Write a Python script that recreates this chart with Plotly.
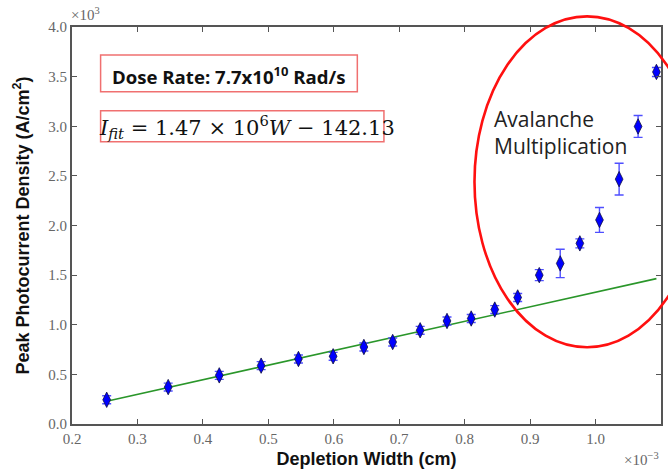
import plotly.graph_objects as go

# ---- data (x in 1e-3 cm, y in 1e3 A/cm^2) ----
depletion_width = [0.253, 0.347, 0.425, 0.489, 0.546, 0.599, 0.646, 0.690, 0.732, 0.773,
                   0.810, 0.846, 0.881, 0.914, 0.946, 0.976, 1.006, 1.036, 1.065, 1.093]
photocurrent = [0.244, 0.372, 0.490, 0.588, 0.655, 0.682, 0.776, 0.826, 0.944, 1.038,
                1.063, 1.153, 1.275, 1.500, 1.618, 1.820, 2.056, 2.467, 2.998, 3.547]
photocurrent_err = [0.04, 0.04, 0.04, 0.04, 0.04, 0.04, 0.04, 0.04, 0.04, 0.04,
                    0.04, 0.04, 0.04, 0.055, 0.143, 0.045, 0.125, 0.16, 0.11, 0.045]
fit_slope = 1.47      # 1.47e6 A/cm^3 in chart units
fit_intercept = -0.14213  # -142.13 A/cm^2 in chart units

x_ticks = [0.2, 0.3, 0.4, 0.5, 0.6, 0.7, 0.8, 0.9, 1.0, 1.1]
y_ticks = [0.0, 0.5, 1.0, 1.5, 2.0, 2.5, 3.0, 3.5, 4.0]
X_RANGE = [0.2, 1.1]
Y_RANGE = [0.0, 4.0]

# ---- layout geometry ----
W, H = 668, 474
ML, MR, MT, MB = 72, 5, 27, 50
PW, PH = W - ML - MR, H - MT - MB


def px(xp):
    return (xp - ML) / PW


def py(yp):
    return (MT + PH - yp) / PH


def dx(v):
    return (v - X_RANGE[0]) / (X_RANGE[1] - X_RANGE[0])


def dy(v):
    return (v - Y_RANGE[0]) / (Y_RANGE[1] - Y_RANGE[0])


fit_x = [depletion_width[0], depletion_width[-1]]
fit_y = [fit_slope * v + fit_intercept for v in fit_x]

fig = go.Figure()
fig.add_trace(go.Scatter(
    x=fit_x, y=fit_y, mode="lines",
    line=dict(color="#2a962a", width=1.6), showlegend=False, hoverinfo="skip"))
fig.add_trace(go.Scatter(
    x=depletion_width, y=photocurrent, mode="markers",
    marker=dict(symbol="diamond-tall", size=11, color="#0000ff",
                line=dict(color="#101040", width=0.8)),
    error_y=dict(type="data", array=photocurrent_err, color="#4f4fff",
                 thickness=1.4, width=4.5),
    showlegend=False))

serif = "Liberation Serif"
label_font = dict(family="Liberation Sans", size=18, color="#111111", weight="bold")
axis_common = dict(showgrid=False, zeroline=False, showline=True, linecolor="#555555",
                   linewidth=2, mirror="ticks", ticks="inside", ticklen=5, tickwidth=1,
                   tickcolor="#555555",
                   tickfont=dict(family=serif, size=15, color="#666666"))

fig.update_layout(
    width=W, height=H, margin=dict(l=ML, r=MR, t=MT, b=MB),
    paper_bgcolor="white", plot_bgcolor="white",
    xaxis=dict(range=X_RANGE, tickvals=x_ticks, ticktext=[f"{v:.1f}" for v in x_ticks],
               title=dict(text="Depletion Width (cm)", standoff=6, font=label_font),
               **axis_common),
    yaxis=dict(range=Y_RANGE, tickvals=y_ticks, ticktext=[f"{v:.1f}" for v in y_ticks],
               title=dict(text="Peak Photocurrent Density (A/cm<sup>2</sup>)", standoff=14,
                          font=label_font),
               **axis_common),
)

# red ellipse (paper refs -> not clipped)
ell_cx, ell_cy, ell_rx, ell_ry = 0.987, 2.44, 0.172, 1.667
fig.add_shape(type="circle", xref="paper", yref="paper",
              x0=dx(ell_cx - ell_rx), x1=dx(ell_cx + ell_rx),
              y0=dy(ell_cy - ell_ry), y1=dy(ell_cy + ell_ry),
              line=dict(color="#ff1010", width=2.6))

# text boxes
box_col = "#f07070"
fig.add_shape(type="rect", xref="paper", yref="paper",
              x0=px(100.7), x1=px(358.3), y0=py(91.7), y1=py(55),
              line=dict(color=box_col, width=1.5))
fig.add_shape(type="rect", xref="paper", yref="paper",
              x0=px(100.7), x1=px(385), y0=py(141.7), y1=py(110.7),
              line=dict(color=box_col, width=1.5))

fig.add_annotation(xref="paper", yref="paper", x=px(110), y=py(75),
                   xanchor="left", yanchor="middle", showarrow=False,
                   text="<b>Dose Rate: 7.7x10<sup>10</sup> Rad/s</b>",
                   font=dict(family="Open Sans", size=18.6, color="#111111"))
fig.add_annotation(xref="paper", yref="paper", x=px(97), y=py(127),
                   xanchor="left", yanchor="middle", showarrow=False,
                   text="<i>I</i><sub><i>fit</i></sub> = 1.47 × 10<sup>6</sup><i>W</i> − 142.13",
                   font=dict(family="DejaVu Serif", size=21, color="#111111"))
fig.add_annotation(xref="paper", yref="paper", x=px(493), y=py(132),
                   xanchor="left", yanchor="middle", showarrow=False, align="left",
                   text="Avalanche<br>Multiplication",
                   font=dict(family="Open Sans", size=21, color="#222222"))

# axis multipliers
fig.add_annotation(xref="paper", yref="paper", x=px(69), y=py(14),
                   xanchor="left", yanchor="middle", showarrow=False,
                   text="×10<sup>3</sup>",
                   font=dict(family=serif, size=15, color="#666666"))
fig.add_annotation(xref="paper", yref="paper", x=px(663), y=py(459),
                   xanchor="right", yanchor="middle", showarrow=False,
                   text="×10<sup>−3</sup>",
                   font=dict(family=serif, size=15, color="#666666"))

fig.write_html("out.html")
